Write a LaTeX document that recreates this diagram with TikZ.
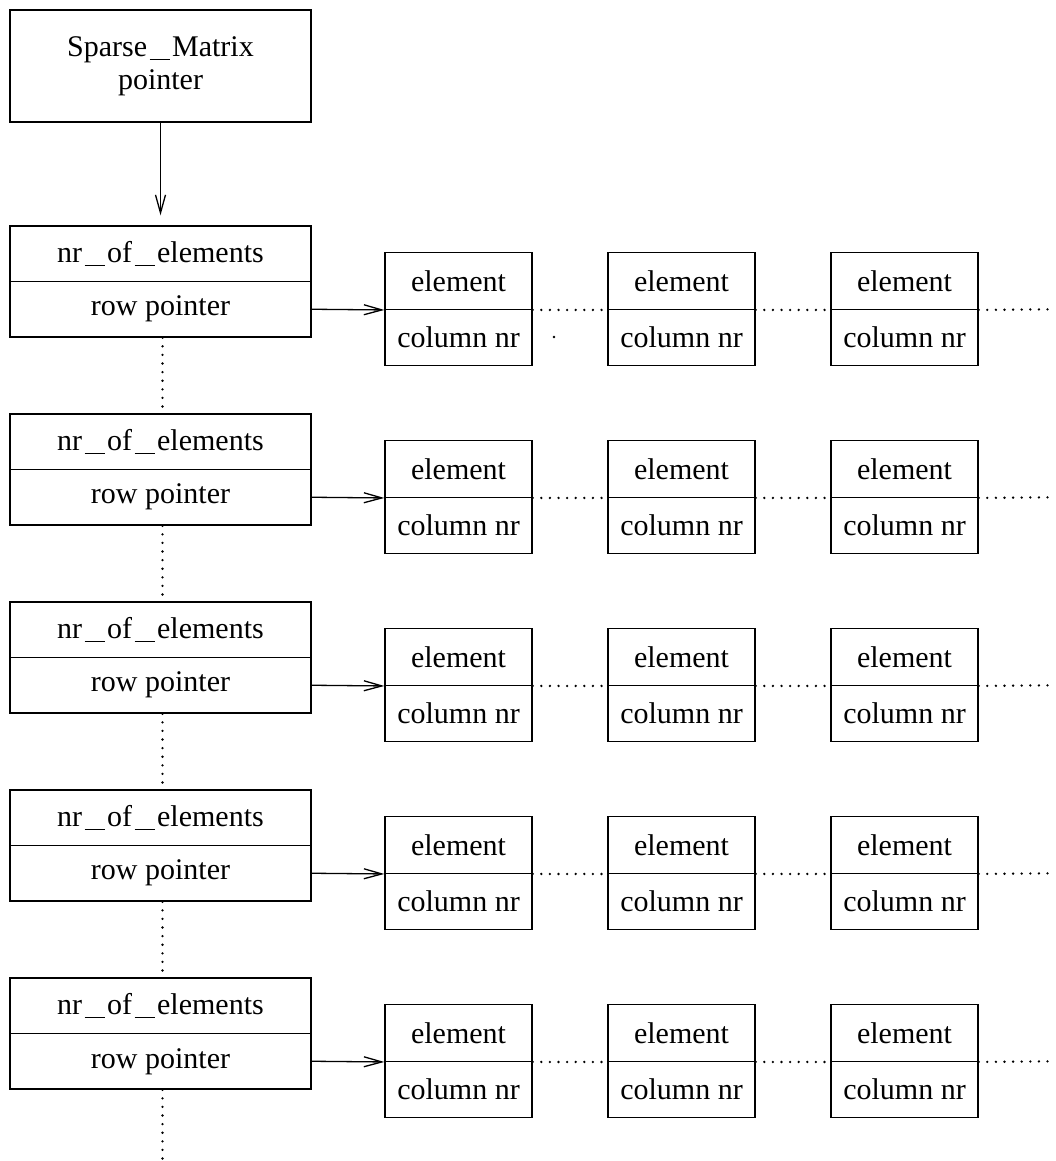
\documentclass[tikz,border=0pt]{standalone}
\usepackage{fontspec}
\setmainfont{Liberation Serif}
\usetikzlibrary{arrows.meta}
% wide, spaced underscore
\newcommand{\wus}{\kern2.5pt\rule[-4pt]{20pt}{1.3pt}\kern2.5pt}
\begin{document}
\begin{tikzpicture}[x=1pt,y=-1pt,
  every node/.style={font=\fontsize{30}{35}\selectfont, inner sep=0pt},
  cell/.style={draw, line width=1.4pt, rectangle, minimum width=301pt, minimum height=55.5pt},
  topbox/.style={draw, line width=1.4pt, rectangle, minimum width=301pt, minimum height=112pt, align=center},
  elcell/.style={draw, line width=1.4pt, rectangle, minimum width=147pt, minimum height=56.5pt},
  link/.style={line width=1.3pt, -{Straight Barb[length=18pt,width=10pt,line width=1.3pt]}},
  dotline/.style={line width=2.6pt, line cap=round, dash pattern=on 0pt off 8.6pt}]
  \useasboundingbox (0,0) rectangle (1055,1161);

  % header with the pointer to the matrix
  \node[topbox] (head) at (160.5,66) {Sparse\wus Matrix\\[-2pt]pointer};

  % one row header and three list elements per row
  \foreach \k in {0,...,4}{
    \pgfmathsetmacro{\T}{226+188*\k}
    \node[cell] (nr\k) at (160.5,\T+27.75) {nr\wus of\wus elements};
    \node[cell] (rp\k) at (160.5,\T+83.25) {row pointer};
    \foreach \j/\cx in {0/458.5,1/681.5,2/904.5}{
      \node[elcell] (el\k\j) at (\cx,\T+55) {element};
      \node[elcell] (cn\k\j) at (\cx,\T+111.5) {column nr};
    }
    \draw[link] (rp\k.east) -- (el\k0.south west);
    \draw[dotline] (el\k0.south east) -- (el\k1.south west);
    \draw[dotline] (el\k1.south east) -- (el\k2.south west);
    \coordinate (tail\k) at (1055,\T+83.25);
    \draw[dotline] (el\k2.south east) -- (tail\k);
  }

  \draw[link, shorten >=10pt] (head.south) -- (nr0.north);

  % vertical chaining of the rows
  \foreach \k/\n in {0/1,1/2,2/3,3/4}{
    \draw[dotline] ([xshift=2pt]rp\k.south) -- ([xshift=2pt]nr\n.north);
  }
  \coordinate (vend) at (162.5,1161);
  \draw[dotline] ([xshift=2pt]rp4.south) -- (vend);

  \fill (554,337) circle (1.4pt);
\end{tikzpicture}
\end{document}
